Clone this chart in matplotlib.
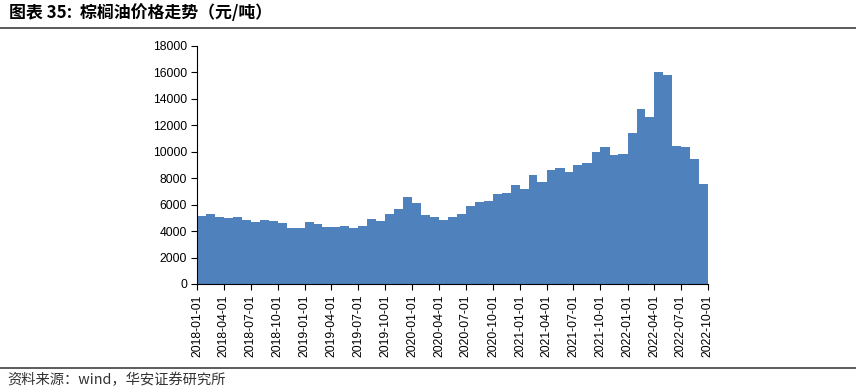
import matplotlib
matplotlib.use("Agg")
import matplotlib.pyplot as plt
import matplotlib.dates as mdates
import pandas as pd

plt.rcParams['font.family'] = ['Liberation Sans', 'Noto Sans CJK SC', 'DejaVu Sans']

# monthly palm oil price, yuan/ton, 2018-01 .. 2022-09
prices = [5170, 5270, 5090, 5015, 5040, 4865, 4715, 4840, 4740, 4640, 4235, 4230,
          4690, 4570, 4340, 4340, 4360, 4235, 4390, 4920, 4740, 5295, 5650, 6580,
          6150, 5220, 5045, 4840, 5090, 5295, 5925, 6230, 6300, 6810, 6910, 7465,
          7190, 8270, 7740, 8600, 8750, 8450, 9000, 9150, 10000, 10340, 9760, 9800,
          11400, 13200, 12600, 16000, 15800, 10400, 10330, 9440, 7530]
months = pd.date_range("2018-01-01", periods=len(prices), freq="MS")
tick_dates = pd.date_range("2018-01-01", "2022-10-01", freq="3MS")
y_ticks = list(range(0, 18001, 2000))

title = "图表 35:  棕榈油价格走势（元/吨）"
source = "资料来源：wind，华安证券研究所"

# close the last step at 2022-10-01
x = list(months) + [pd.Timestamp("2022-10-01")]
y = prices + [prices[-1]]

fig = plt.figure(figsize=(8.56, 3.91), dpi=100)
ax = fig.add_axes([0.2305, 0.2737, 0.5965, 0.6087])

ax.fill_between(x, y, step="post", color="#4F81BD", linewidth=0)

ax.set_xlim(pd.Timestamp("2018-01-01"), pd.Timestamp("2022-10-01"))
ax.set_ylim(0, 18000)
ax.set_yticks(y_ticks)
ax.set_xticks(tick_dates)
ax.xaxis.set_major_formatter(mdates.DateFormatter("%Y-%m-%d"))
ax.tick_params(axis="x", rotation=90, labelsize=8.7, length=4, direction="out")
ax.tick_params(axis="y", labelsize=8.7, length=4, direction="out")
ax.spines["top"].set_visible(False)
ax.spines["right"].set_visible(False)

fig.text(0.010, 0.968, title, fontsize=12.2, fontweight="bold", va="center",
         family=['Noto Sans CJK SC', 'DejaVu Sans'])
fig.add_artist(plt.Line2D([0, 1], [0.928, 0.928], color="#404040", linewidth=1.2))
fig.add_artist(plt.Line2D([0, 1], [0.059, 0.059], color="#404040", linewidth=1.2))
fig.text(0.009, 0.028, source, fontsize=10.3, va="center", color="#333333",
         family=['Noto Sans CJK SC', 'DejaVu Sans'])

fig.savefig("out.png", dpi=100)
